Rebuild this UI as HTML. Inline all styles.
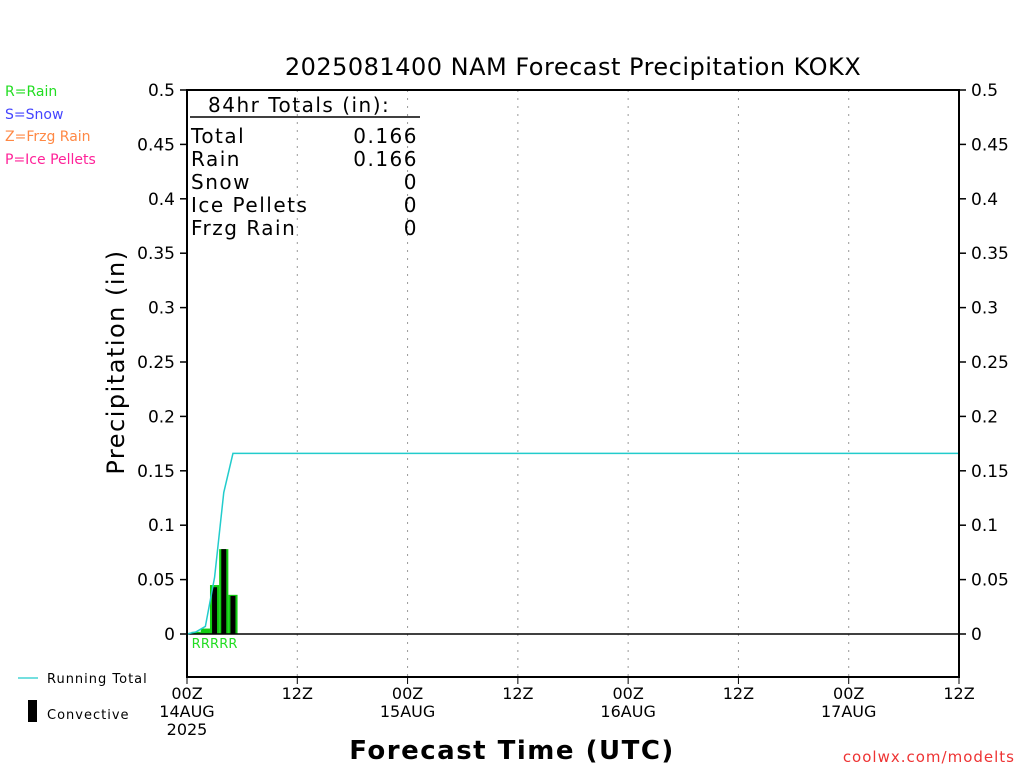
<!DOCTYPE html>
<html><head><meta charset="utf-8"><style>
body{margin:0;background:#fff;width:1024px;height:768px;overflow:hidden}
svg{display:block;font-family:"DejaVu Sans","Liberation Sans",sans-serif}
</style></head><body>
<svg id="c" width="1024" height="768">
<text x="573" y="75" font-size="24" text-anchor="middle" letter-spacing="0.5">2025081400 NAM Forecast Precipitation KOKX</text>
<text x="5" y="96" font-size="14" fill="#22dd22">R=Rain</text>
<text x="5" y="119" font-size="14" fill="#4444ff">S=Snow</text>
<text x="5" y="141" font-size="14" fill="#ff8844">Z=Frzg Rain</text>
<text x="5" y="164" font-size="14" fill="#ff2299">P=Ice Pellets</text>
<g id="grid"></g>
<g id="marks"></g>
<rect x="187" y="90" width="772" height="587" fill="none" stroke="#000" stroke-width="2"/>
<g id="axes"></g>
<g font-size="20" letter-spacing="1.5">
<text x="208" y="112">84hr Totals (in):</text>
<line x1="190" y1="117" x2="420" y2="117" stroke="#000" stroke-width="1.5"/>
<text x="191" y="143">Total</text><text x="418" y="143" text-anchor="end">0.166</text>
<text x="191" y="166">Rain</text><text x="418" y="166" text-anchor="end">0.166</text>
<text x="191" y="189">Snow</text><text x="418" y="189" text-anchor="end">0</text>
<text x="191" y="212">Ice Pellets</text><text x="418" y="212" text-anchor="end">0</text>
<text x="191" y="235">Frzg Rain</text><text x="418" y="235" text-anchor="end">0</text>
</g>
<text transform="translate(124,362) rotate(-90)" font-size="24" text-anchor="middle" letter-spacing="1.5">Precipitation (in)</text>
<text x="512" y="759" font-size="26" text-anchor="middle" letter-spacing="1.5" font-weight="bold">Forecast Time (UTC)</text>
<text x="1015" y="762" font-size="15" fill="#ee3333" text-anchor="end" letter-spacing="1">coolwx.com/modelts</text>
<line x1="18" y1="678" x2="38" y2="678" stroke="#22cccc" stroke-width="1.2"/>
<text x="47" y="683" font-size="13" letter-spacing="1">Running Total</text>
<rect x="28" y="700" width="9" height="22" fill="#000"/>
<text x="47" y="719" font-size="13" letter-spacing="1">Convective</text>
</svg>
<script>
const hours=[1,2,3,4,5];
const totalPrecip=[0.002,0.005,0.045,0.078,0.036];
const convPrecip=[0,0,0.043,0.078,0.035];
const cumHours=[0,1,2,3,4,5,84];
const cumTotal=[0,0.002,0.007,0.052,0.130,0.166,0.166];
const yTicks=[0,0.05,0.1,0.15,0.2,0.25,0.3,0.35,0.4,0.45,0.5];
const xTickHours=[0,12,24,36,48,60,72,84];
const xTickLabels=[["00Z","14AUG","2025"],["12Z"],["00Z","15AUG"],["12Z"],["00Z","16AUG"],["12Z"],["00Z","17AUG"],["12Z"]];
const NS="http://www.w3.org/2000/svg";
const X=h=>187+h*772/84, Y=v=>634-v*1088;
function mk(t,a,p){const e=document.createElementNS(NS,t);for(const k in a)e.setAttribute(k,a[k]);p.appendChild(e);return e;}
const grid=document.getElementById('grid'),marks=document.getElementById('marks'),axes=document.getElementById('axes');
xTickHours.forEach((h,i)=>{
 if(h>0&&h<84){const l=mk('line',{x1:X(h),x2:X(h),y1:90,y2:677,stroke:'#999','stroke-dasharray':'2,6'},grid);
 
 }
 const t=mk('line',{x1:X(h),x2:X(h),y1:677,y2:684,stroke:'#000'},axes);
 
 
 xTickLabels[i].forEach((s,j)=>{const tx=mk('text',{x:X(h),y:699+j*18,'font-size':16,'text-anchor':'middle'},axes);tx.textContent=s;
 
 });
});
yTicks.forEach(v=>{
 [[187,180,175,'end'],[959,966,971,'start']].forEach(([a,b,tx,an])=>{
 const l=mk('line',{x1:a,x2:b,y1:Y(v),y2:Y(v),stroke:'#000','stroke-width':1.5},axes);
 
 
 const t=mk('text',{x:tx,y:Y(v)+6,'font-size':17,'text-anchor':an},axes);t.textContent=String(v);
 
 });
});
hours.forEach((h,i)=>{
 const b=mk('rect',{x:X(h-0.5),y:Y(totalPrecip[i]),width:X(1)-X(0),height:Y(0)-Y(totalPrecip[i]),fill:'#11cc11'},marks);
 
 
 if(convPrecip[i]>0){const c=mk('rect',{x:X(h)-2.5,y:Y(convPrecip[i]),width:5,height:Y(0)-Y(convPrecip[i]),fill:'#000'},marks);
 
 }
 const r=mk('text',{x:X(h),y:648,'font-size':13,fill:'#22dd22','text-anchor':'middle'},marks);r.textContent='R';
 
 
});
const z=mk('line',{x1:187,x2:959,y1:Y(0),y2:Y(0),stroke:'#000','stroke-width':1.5},marks);


const p=mk('polyline',{points:cumHours.map((h,i)=>X(h)+','+Y(cumTotal[i])).join(' '),fill:'none',stroke:'#22cccc','stroke-width':1.5},marks);


</script>
</body></html>
